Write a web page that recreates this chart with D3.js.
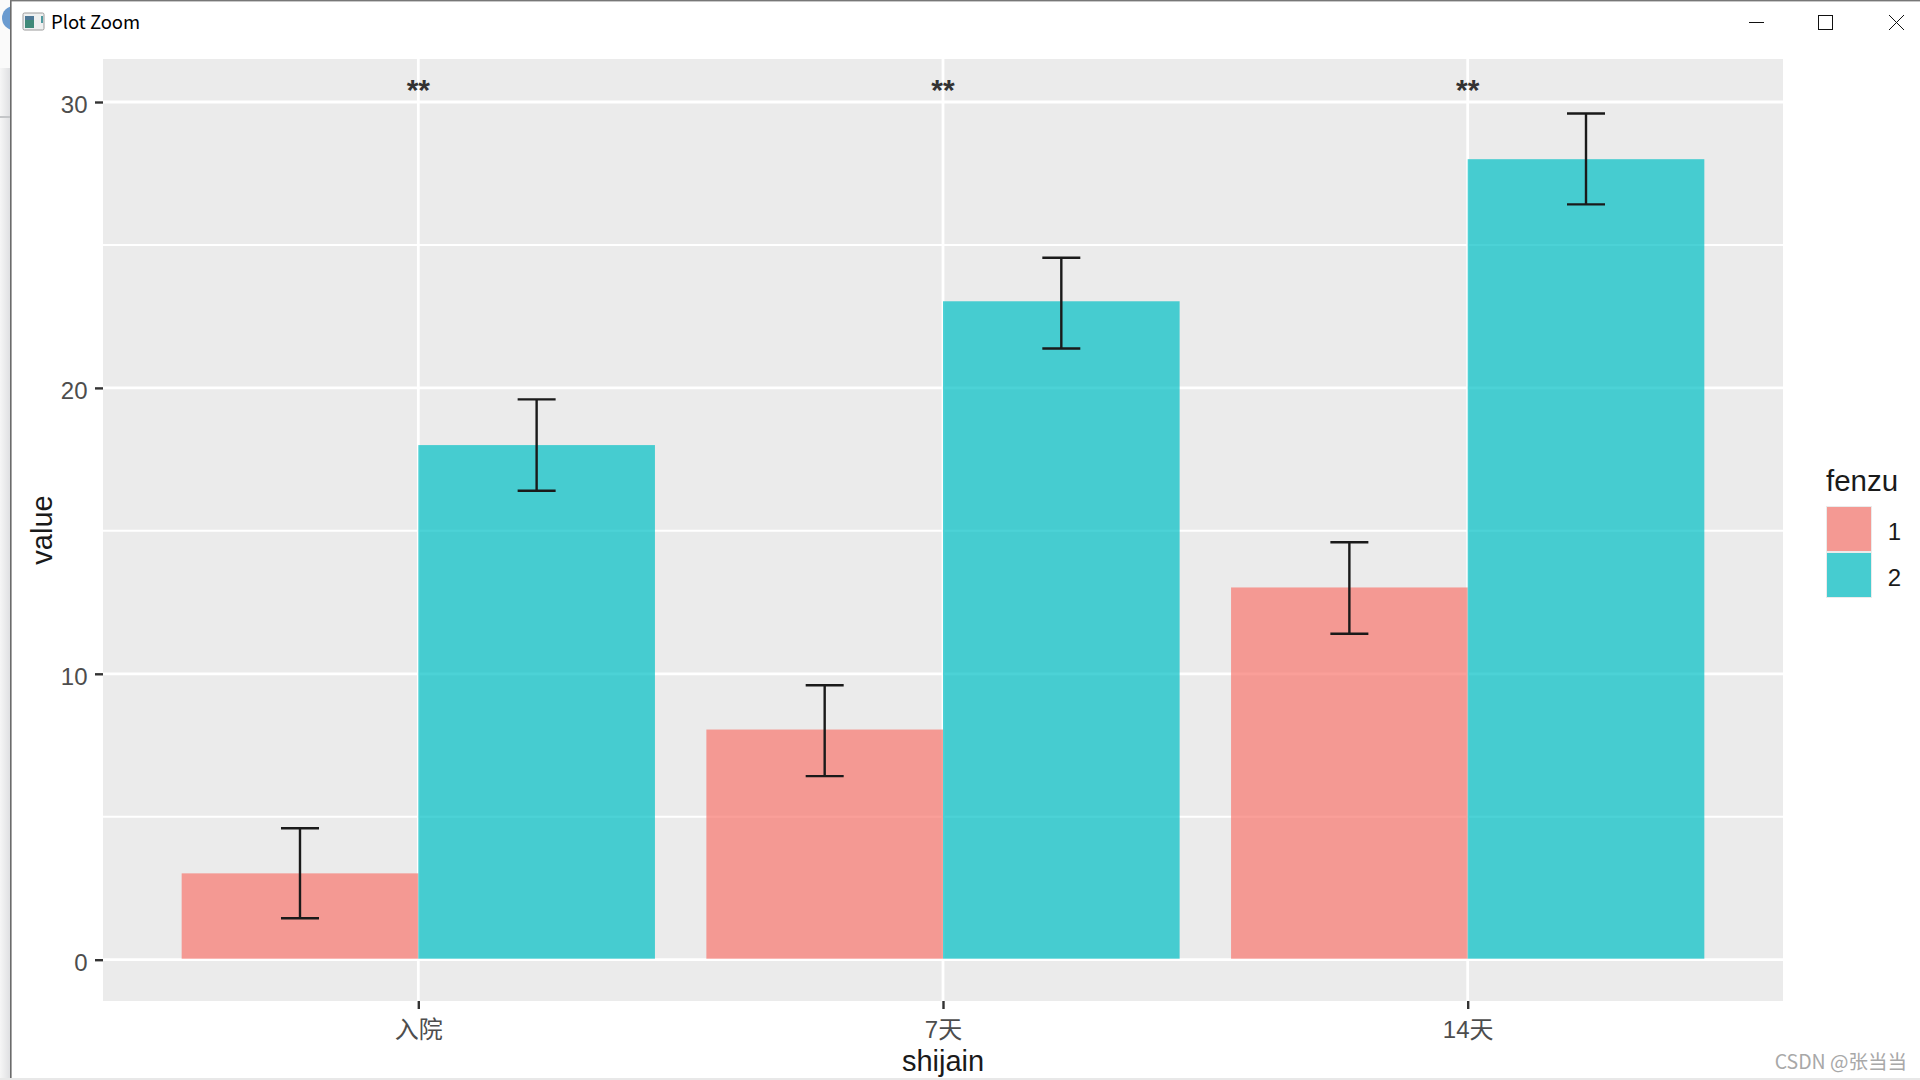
<html>

<head>
  <meta charset="UTF-8">
  <title>Plot Zoom</title>
  <script src="https://d3js.org/d3.v7.min.js"></script>
  <style>
    html, body {
      margin: 0;
      padding: 0;
      background-color: white;
      overflow: hidden;
    }
    svg {
      display: block;
    }
    text {
      font-family: "Liberation Sans", Arial, sans-serif;
    }
  </style>
</head>

<body>
  <svg></svg>
</body>

<script>
  let width = 1920,
    height = 1080;

  // chart values
  const categories = ["入院", "7天", "14天"];
  const groups = ["1", "2"];
  const group1 = [3.02, 8.05, 13.02];
  const group2 = [18, 23.03, 28];
  const errHigh1 = [4.6, 9.6, 14.6];
  const errLow1 = [1.45, 6.42, 11.4];
  const errHigh2 = [19.6, 24.55, 29.6];
  const errLow2 = [16.4, 21.38, 26.42];
  const yTicks = [0, 10, 20, 30];
  const yMinor = [5, 15, 25];
  const stars = ["**", "**", "**"];

  const colors = ["#F8766D", "#00BFC4"];
  const panel = { left: 103, right: 1783, top: 59, bottom: 1001 };

  let svg = d3.select("svg")
    .attr("width", width)
    .attr("height", height)
    .attr("viewBox", "0 0 " + width + " " + height);

  // window frame of the screenshot
  let chrome = svg.append("g").attr("id", "chrome");
  let shade = svg.append("defs").append("linearGradient").attr("id", "shade");
  shade.append("stop").attr("offset", "0").attr("stop-color", "#f6f6f6");
  shade.append("stop").attr("offset", "1").attr("stop-color", "#dfe0e2");
  chrome.append("rect").attr("x", 0).attr("y", 0).attr("width", 10).attr("height", 1080).attr("fill", "url(#shade)");
  chrome.append("rect").attr("x", 0).attr("y", 0).attr("width", 10).attr("height", 68).attr("fill", "#fafafa");
  chrome.append("rect").attr("x", 0).attr("y", 116).attr("width", 10).attr("height", 2).attr("fill", "#c4c6c8");
  chrome.append("circle").attr("cx", 14).attr("cy", 18).attr("r", 12).attr("fill", "#6a9bd0");
  chrome.append("rect").attr("x", 10).attr("y", 0).attr("width", 1910).attr("height", 1078).attr("fill", "white");
  chrome.append("rect").attr("x", 10).attr("y", 0).attr("width", 1.6).attr("height", 1078).attr("fill", "#6b6b6b");
  chrome.append("rect").attr("x", 10).attr("y", 0).attr("width", 1910).attr("height", 1.4).attr("fill", "#777");
  chrome.append("rect").attr("x", 0).attr("y", 1078).attr("width", 1920).attr("height", 2).attr("fill", "#e8e8e8");

  // title bar icon
  let icon = chrome.append("g");
  icon.append("rect").attr("x", 23).attr("y", 13).attr("width", 21).attr("height", 17).attr("rx", 1.5)
    .attr("fill", "#eef0f0").attr("stroke", "#9a9a9a").attr("stroke-width", 1);
  icon.append("rect").attr("x", 25).attr("y", 16).attr("width", 9).attr("height", 12).attr("fill", "#3f8a78");
  icon.append("rect").attr("x", 25).attr("y", 16).attr("width", 9).attr("height", 4).attr("fill", "#4d7896");
  icon.append("rect").attr("x", 41).attr("y", 16).attr("width", 2).attr("height", 7).attr("fill", "#4f9aa0");

  chrome.append("text")
    .attr("x", 51).attr("y", 29)
    .style("font-family", "'Noto Sans CJK SC', 'Noto Sans', sans-serif")
    .style("font-size", "18.5px")
    .attr("fill", "black")
    .text("Plot Zoom");

  // minimize, maximize, close
  chrome.append("line").attr("x1", 1749).attr("x2", 1764).attr("y1", 22.5).attr("y2", 22.5).attr("stroke", "#111").attr("stroke-width", 1);
  chrome.append("rect").attr("x", 1818.5).attr("y", 15.5).attr("width", 14).attr("height", 14).attr("fill", "none").attr("stroke", "#111").attr("stroke-width", 1);
  chrome.append("path").attr("d", "M1889,15L1904,30M1904,15L1889,30").attr("fill", "none").attr("stroke", "#111").attr("stroke-width", 1);

  // scales
  let x = d3.scalePoint()
    .domain(categories)
    .range([panel.left + 0.5, panel.right - 0.5])
    .padding(0.6);

  let y = d3.scaleLinear()
    .domain([0, 30])
    .range([959.7, 102]);

  // half of a category slot is one bar
  let barW = x.step() * 0.451;

  // panel and grid
  svg.append("rect")
    .attr("x", panel.left)
    .attr("y", panel.top)
    .attr("width", panel.right - panel.left)
    .attr("height", panel.bottom - panel.top)
    .attr("fill", "#EBEBEB");

  svg.append("g").selectAll("line")
    .data(yMinor)
    .enter()
    .append("line")
    .attr("x1", panel.left).attr("x2", panel.right)
    .attr("y1", d => y(d)).attr("y2", d => y(d))
    .attr("stroke", "white").attr("stroke-width", 2);

  svg.append("g").selectAll("line")
    .data(yTicks)
    .enter()
    .append("line")
    .attr("x1", panel.left).attr("x2", panel.right)
    .attr("y1", d => y(d)).attr("y2", d => y(d))
    .attr("stroke", "white").attr("stroke-width", 2.8);

  svg.append("g").selectAll("line")
    .data(categories)
    .enter()
    .append("line")
    .attr("x1", d => x(d)).attr("x2", d => x(d))
    .attr("y1", panel.top).attr("y2", panel.bottom)
    .attr("stroke", "white").attr("stroke-width", 2.8);

  // bars
  [group1, group2].forEach((values, g) => {
    svg.append("g")
      .selectAll("rect")
      .data(values)
      .enter()
      .append("rect")
      .attr("x", (d, i) => x(categories[i]) + (g - 1) * barW)
      .attr("y", d => y(d))
      .attr("width", barW)
      .attr("height", d => y(0) - y(d) - 1)
      .attr("fill", colors[g])
      .attr("fill-opacity", 0.7);
  });

  // error bars
  let capW = 19;
  [[errLow1, errHigh1], [errLow2, errHigh2]].forEach((err, g) => {
    let cx = i => x(categories[i]) + (g - 0.5) * barW;
    svg.append("g")
      .attr("stroke", "#1a1a1a")
      .attr("stroke-width", 2.4)
      .selectAll("path")
      .data(err[0])
      .enter()
      .append("path")
      .attr("fill", "none")
      .attr("d", (d, i) => {
        let lo = y(d), hi = y(err[1][i]), c = cx(i);
        return "M" + (c - capW) + "," + hi + "H" + (c + capW)
          + "M" + c + "," + hi + "V" + lo
          + "M" + (c - capW) + "," + lo + "H" + (c + capW);
      });
  });

  // significance marks
  svg.append("g").selectAll("text")
    .data(stars)
    .enter()
    .append("text")
    .attr("x", (d, i) => x(categories[i]))
    .attr("y", 99.5)
    .attr("text-anchor", "middle")
    .attr("fill", "#333")
    .style("font-size", "30px")
    .style("font-weight", "bold")
    .text(d => d);

  // axes
  let xAxis = svg.append("g")
    .attr("transform", "translate(0," + panel.bottom + ")")
    .call(d3.axisBottom(x).tickSize(8).tickPadding(12));
  let yAxis = svg.append("g")
    .attr("transform", "translate(" + panel.left + ",0)")
    .call(d3.axisLeft(y).tickValues(yTicks).tickSize(8).tickPadding(7.5));

  xAxis.select(".domain").remove();
  yAxis.select(".domain").remove();
  xAxis.selectAll("line").attr("stroke", "#333").attr("stroke-width", 2.4);
  yAxis.selectAll("line").attr("stroke", "#333").attr("stroke-width", 2.4);
  xAxis.selectAll("text")
    .attr("fill", "#4D4D4D")
    .style("font-size", "24px")
    .style("font-family", "'Liberation Sans', 'Noto Sans CJK SC', sans-serif");
  yAxis.selectAll("text")
    .attr("fill", "#4D4D4D")
    .attr("dy", "0.43em")
    .style("font-size", "24px");

  // axis titles
  svg.append("text")
    .attr("x", (panel.left + panel.right) / 2)
    .attr("y", 1071)
    .attr("text-anchor", "middle")
    .attr("fill", "#1a1a1a")
    .style("font-size", "29px")
    .text("shijain");

  svg.append("text")
    .attr("transform", "translate(52,530) rotate(-90)")
    .attr("text-anchor", "middle")
    .attr("fill", "#1a1a1a")
    .style("font-size", "29px")
    .text("value");

  // legend
  let legend = svg.append("g").attr("transform", "translate(1826,0)");
  legend.append("text")
    .attr("x", 0).attr("y", 491)
    .attr("fill", "#1a1a1a")
    .style("font-size", "29.5px")
    .text("fenzu");

  let legendY = d3.scaleBand().domain(groups).range([506, 598]);

  groups.forEach((g, i) => {
    legend.append("rect")
      .attr("x", 0)
      .attr("y", legendY(g))
      .attr("width", 46)
      .attr("height", legendY.bandwidth())
      .attr("fill", "#EBEBEB");
    legend.append("rect")
      .attr("x", 1)
      .attr("y", legendY(g) + 1)
      .attr("width", 44)
      .attr("height", legendY.bandwidth() - 2)
      .attr("fill", colors[i])
      .attr("fill-opacity", 0.7);
    legend.append("text")
      .attr("x", 68.5)
      .attr("y", legendY(g) + legendY.bandwidth() / 2 + 11)
      .attr("text-anchor", "middle")
      .attr("fill", "#1a1a1a")
      .style("font-size", "24px")
      .text(g);
  });

  // watermark
  svg.append("text")
    .attr("x", 1907).attr("y", 1069)
    .attr("text-anchor", "end")
    .attr("fill", "#a8a8a8")
    .style("font-family", "'Noto Sans CJK SC', sans-serif")
    .style("font-size", "19.5px")
    .text("CSDN @张当当");
</script>
</html>
